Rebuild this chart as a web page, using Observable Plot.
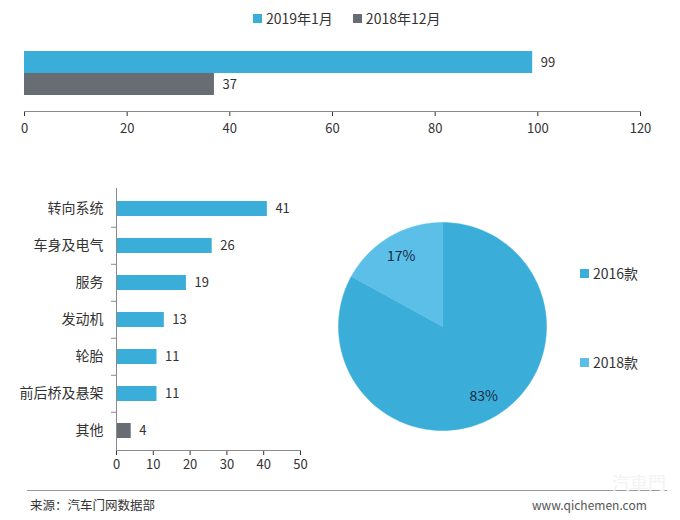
<!DOCTYPE html>
<html>
<head>
<meta charset="utf-8">
<script src="https://cdn.jsdelivr.net/npm/d3@7"></script>
<script src="https://cdn.jsdelivr.net/npm/@observablehq/plot@0.6"></script>
<style>
  html, body { margin: 0; padding: 0; background: #fff; }
  body { font-family: "Noto Sans CJK SC", "Noto Sans", sans-serif; color: #333; }
  #root { position: relative; width: 680px; height: 520px; overflow: hidden; }
  .abs { position: absolute; }
  .leg { position: absolute; font-size: 14px; line-height: 16px; white-space: nowrap; color: #333; }
  .sw { display: inline-block; width: 9px; height: 9px; margin-right: 4px; vertical-align: 1px; }
</style>
</head>
<body>
<div id="root"></div>
<script>
// ---- data ----
const topSeries = ["2019年1月", "2018年12月"];
const topValues = [99, 37];
const topTicks = [0, 20, 40, 60, 80, 100, 120];

const categories = ["转向系统", "车身及电气", "服务", "发动机", "轮胎", "前后桥及悬架", "其他"];
const catValues = [41, 26, 19, 13, 11, 11, 4];
const catGroup = ["main", "main", "main", "main", "main", "main", "other"];
const catTicks = [0, 10, 20, 30, 40, 50];

const pieLabels = ["2016款", "2018款"];
const pieValues = [83, 17];

// ---- styles ----
const BLUE = "#3aaed9", GRAY = "#686c73", LIGHT = "#5cbfe7";
const topColors = [BLUE, GRAY];
const pieColors = [BLUE, LIGHT];
const FONT = "Noto Sans CJK SC, Noto Sans, sans-serif";

const root = document.getElementById("root");
function place(el, left, top) { el.classList.add("abs"); el.style.left = left + "px"; el.style.top = top + "px"; root.appendChild(el); }

// ---- top legend ----
const legTop = document.createElement("div");
legTop.className = "leg";
legTop.style.left = "253px"; legTop.style.top = "10px";
legTop.innerHTML = topSeries.map((s, i) =>
  `<span style="margin-right:${i === 0 ? 20 : 0}px"><span class="sw" style="background:${topColors[i]}"></span>${s}</span>`).join("");
root.appendChild(legTop);

// ---- top chart ----
const topData = topSeries.map((s, i) => ({series: s, value: topValues[i]}));
const topPlot = Plot.plot({
  width: 680, height: 110,
  marginLeft: 24, marginRight: 40, marginTop: 0, marginBottom: 39,
  style: {fontFamily: FONT, fontSize: "13px", color: "#333", background: "transparent"},
  x: {domain: [0, 120], ticks: topTicks, tickSize: 5, tickPadding: 7, label: null},
  y: {domain: topSeries, range: [10, 55], padding: 0, axis: null},
  color: {domain: topSeries, range: topColors},
  marks: [
    Plot.barX(topData, {x: "value", y: "series", fill: "series"}),
    Plot.text(topData, {x: "value", y: "series", text: d => String(d.value), textAnchor: "start", dx: 8, fontSize: 13, fill: "#333"}),
    Plot.frame({anchor: "bottom", stroke: "#8a8a8a"})
  ]
});
place(topPlot, 0, 40);

// ---- bottom-left bar chart ----
const catData = categories.map((c, i) => ({cat: c, value: catValues[i], group: catGroup[i]}));
const H2 = 300, MT2 = 8, MB2 = 30;
const step = (H2 - MT2 - MB2) / categories.length;
const barPlot = Plot.plot({
  width: 320, height: H2,
  marginLeft: 116, marginRight: 20, marginTop: MT2, marginBottom: MB2,
  style: {fontFamily: FONT, fontSize: "13px", color: "#333", background: "transparent"},
  x: {domain: [0, 50], ticks: catTicks, tickSize: 5, tickPadding: 4, label: null},
  y: {domain: categories, paddingInner: 0.6, paddingOuter: 0.3, label: null},
  color: {domain: ["main", "other"], range: [BLUE, GRAY]},
  marks: [
    Plot.barX(catData, {x: "value", y: "cat", fill: "group"}),
    Plot.text(catData, {x: "value", y: "cat", text: d => String(d.value), textAnchor: "start", dx: 8, fontSize: 13, fill: "#333"}),
    Plot.axisY({tickSize: 0, tickPadding: 13, fontSize: 14, label: null}),
    Plot.axisY(categories.slice(1), {tickSize: 5, tickFormat: () => "", dy: -step / 2, stroke: "#8a8a8a", label: null}),
    Plot.ruleX([0], {stroke: "#8a8a8a"}),
    Plot.frame({anchor: "bottom", stroke: "#8a8a8a"})
  ]
});
place(barPlot, 0, 180);

// ---- pie chart ----
const total = d3.sum(pieValues);
let acc = 0;
const slices = pieLabels.map((l, i) => {
  const a0 = acc / total * 2 * Math.PI;
  acc += pieValues[i];
  const a1 = acc / total * 2 * Math.PI;
  return {label: l, value: pieValues[i], a0, a1, mid: (a0 + a1) / 2, color: pieColors[i]};
});
function slicePoints(s) {
  const pts = [{x: 0, y: 0}];
  const n = 180;
  for (let k = 0; k <= n; k++) {
    const a = s.a0 + (s.a1 - s.a0) * k / n;
    pts.push({x: Math.sin(a), y: Math.cos(a)});
  }
  pts.push({x: 0, y: 0});
  return pts;
}
const piePlot = Plot.plot({
  width: 224, height: 224,
  margin: 0,
  style: {fontFamily: FONT, background: "transparent"},
  x: {domain: [-1, 1], range: [8, 216], axis: null},
  y: {domain: [-1, 1], range: [216, 8], axis: null},
  marks: [
    ...slices.map(s => Plot.line(slicePoints(s), {x: "x", y: "y", fill: s.color, stroke: s.color, strokeWidth: 0.5})),
    Plot.text(slices, {x: d => Math.sin(d.mid) * 0.78, y: d => Math.cos(d.mid) * 0.78, text: d => d.value + "%", fontSize: 14, fill: "#1b2b44"})
  ]
});
place(piePlot, 330, 214);

// ---- pie legend ----
pieLabels.forEach((l, i) => {
  const d = document.createElement("div");
  d.className = "leg";
  d.style.left = "580px";
  d.style.top = (i === 0 ? 265 : 354) + "px";
  d.innerHTML = `<span class="sw" style="background:${pieColors[i]}"></span>${l}`;
  root.appendChild(d);
});

// ---- footer ----
const line = document.createElement("div");
line.className = "abs";
line.style.cssText += "left:27px;top:490px;width:640px;height:0;border-top:1px solid #9a9a9a;";
root.appendChild(line);
const wm = document.createElement("div");
wm.className = "leg";
wm.style.cssText += "left:612px;top:472px;font-size:18px;line-height:20px;color:#f3f3f3;";
wm.textContent = "汽車門";
root.appendChild(wm);
const src = document.createElement("div");
src.className = "leg";
src.style.cssText += "left:30px;top:497px;font-size:12.5px;color:#333;";
src.textContent = "来源：汽车门网数据部";
root.appendChild(src);
const url = document.createElement("div");
url.className = "leg";
url.style.cssText += "left:532px;top:497px;font-size:12px;color:#555;";
url.textContent = "www.qichemen.com";
root.appendChild(url);
</script>
</body>
</html>
